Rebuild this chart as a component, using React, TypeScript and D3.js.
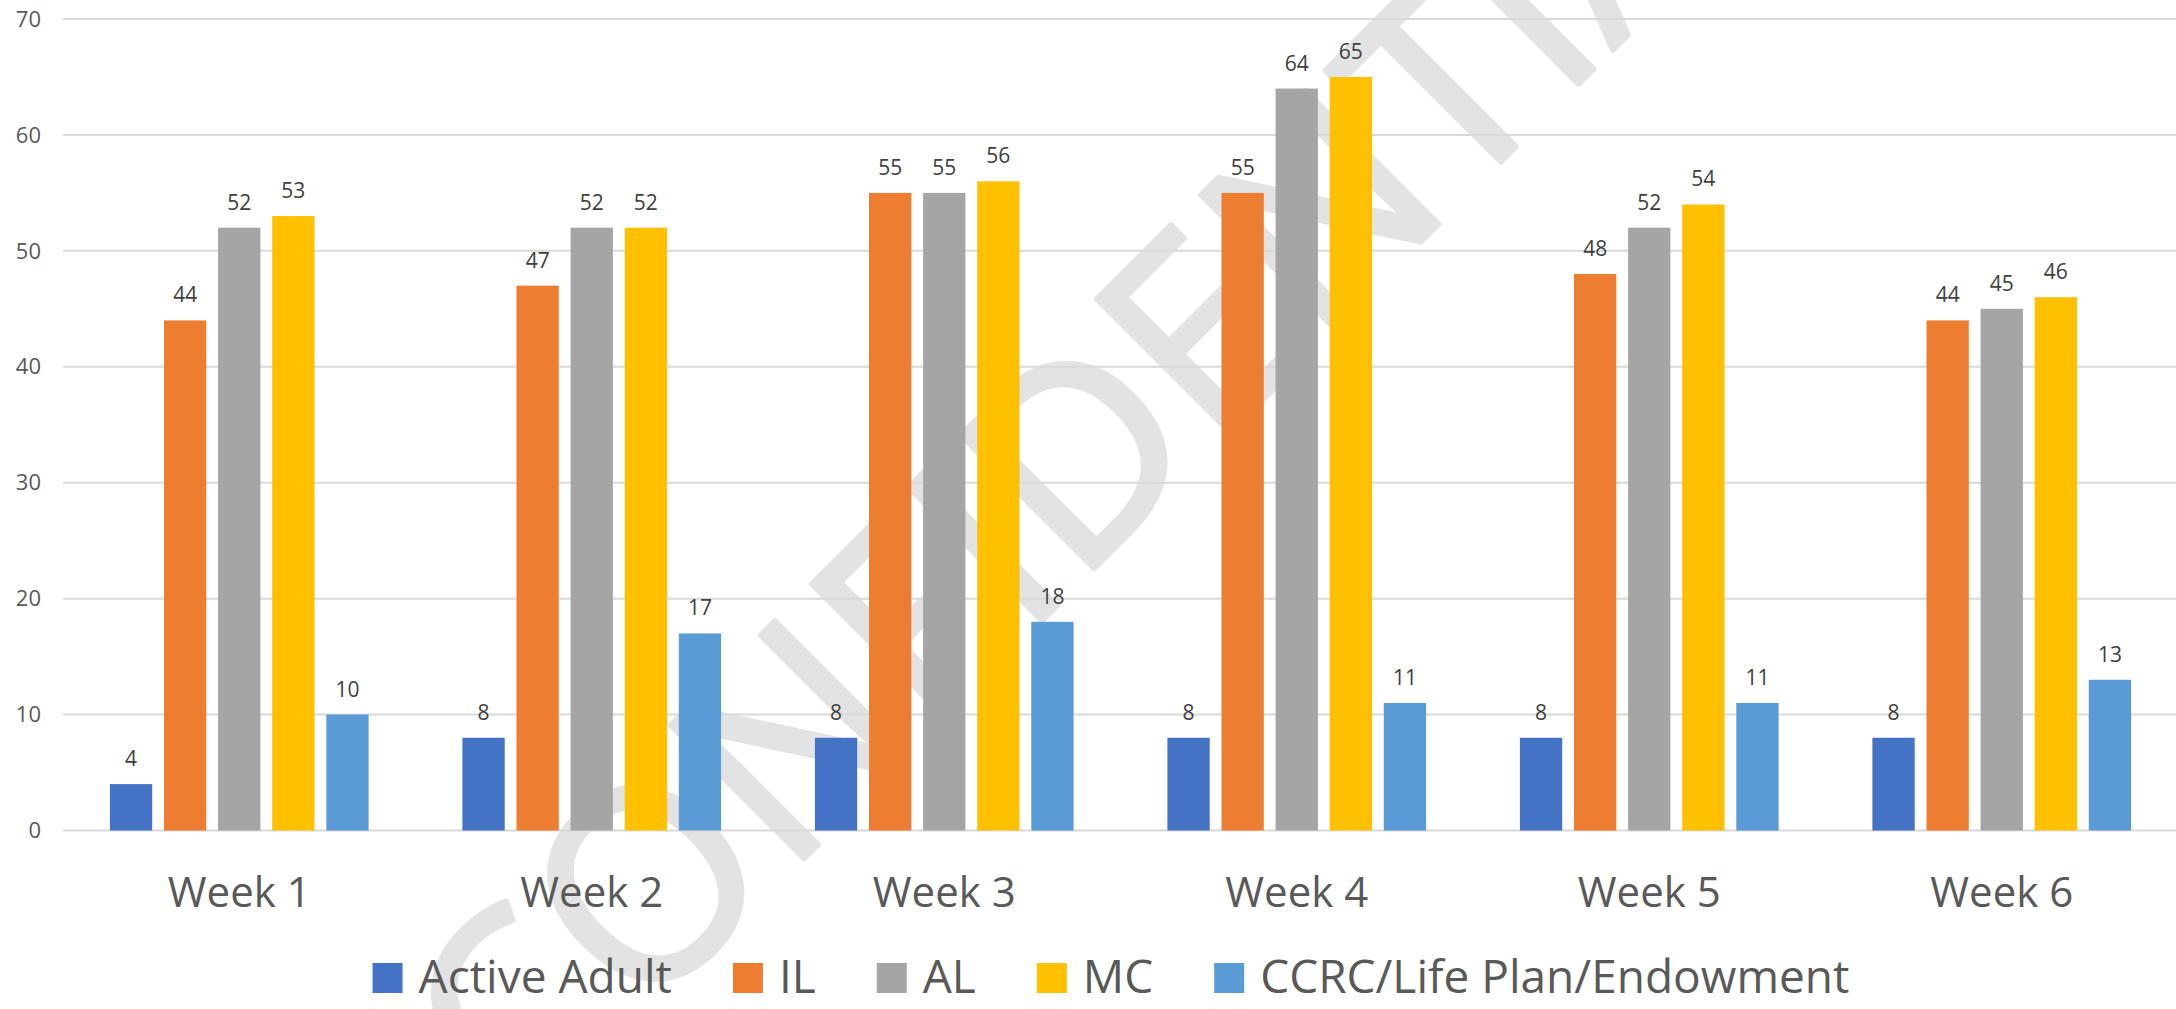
import React from "react";
import * as d3 from "d3";

const weeks = ["Week 1", "Week 2", "Week 3", "Week 4", "Week 5", "Week 6"];
const seriesNames = ["Active Adult", "IL", "AL", "MC", "CCRC/Life Plan/Endowment"];
const activeAdult = [4, 8, 8, 8, 8, 8];
const il = [44, 47, 55, 55, 48, 44];
const al = [52, 52, 55, 64, 52, 45];
const mc = [53, 52, 56, 65, 54, 46];
const ccrc = [10, 17, 18, 11, 11, 13];
const yTicks = [0, 10, 20, 30, 40, 50, 60, 70];
const seriesColors = ["#4472C4", "#ED7D31", "#A5A5A5", "#FFC000", "#5B9BD5"];
const watermark = "CONFIDENTIAL";

const seriesValues = [activeAdult, il, al, mc, ccrc];

const W = 2176;
const H = 1009;
const FONT = "'Open Sans', 'Noto Sans', sans-serif";

let ctx: CanvasRenderingContext2D | null = null;
function measure(text: string, size: number) {
  if (!ctx) {
    const c = document.createElement("canvas");
    ctx = c.getContext("2d");
  }
  if (!ctx) return text.length * size * 0.55;
  ctx.font = `${size}px 'Open Sans'`;
  return ctx.measureText(text).width;
}

export default function App() {
  const x0 = d3.scaleBand<string>().domain(weeks).range([63, 63 + 6 * 352.5]).paddingInner(0).paddingOuter(0);
  const x1 = d3
    .scaleBand<string>()
    .domain(seriesNames)
    .range([0, x0.bandwidth()])
    .paddingInner(0.218)
    .paddingOuter(0.867);
  const y = d3.scaleLinear().domain([0, 70]).range([830.5, 19]);

  // legend layout
  const legendFont = 46;
  const sq = 30;
  const sqGap = 16;
  const itemGap = 61;
  const widths = seriesNames.map((s) => measure(s, legendFont));
  const total = widths.reduce((a, w) => a + sq + sqGap + w, 0) + itemGap * (seriesNames.length - 1);
  let lx = 1111 - total / 2;
  const legendItems = seriesNames.map((s, i) => {
    const item = { name: s, x: lx, color: seriesColors[i] };
    lx += sq + sqGap + widths[i] + itemGap;
    return item;
  });
  const legendBaseline = 993;

  return (
    <svg
      width={W}
      height={H}
      viewBox={`0 0 ${W} ${H}`}
      style={{ position: "absolute", left: 0, top: 0, display: "block", background: "#fff" }}
    >
      <rect x={0} y={0} width={W} height={H} fill="#ffffff" />
      {/* watermark */}
      <text
        x={522}
        y={1141}
        transform="rotate(-45 522 1141)"
        fontFamily={FONT}
        fontSize={265}
        fill="#e3e3e3"
        stroke="#e3e3e3"
        strokeWidth={5}
        strokeLinejoin="round"
      >
        {watermark}
      </text>
      {/* gridlines */}
      {yTicks.map((t) => (
        <line key={t} x1={63} x2={W} y1={y(t)} y2={y(t)} stroke="#d9d9d9" strokeWidth={2} />
      ))}
      {/* y tick labels */}
      {yTicks.map((t) => (
        <text
          key={"yl" + t}
          x={41}
          y={y(t)}
          dy="0.35em"
          textAnchor="end"
          fontFamily={FONT}
          fontSize={22}
          fill="#595959"
        >
          {t}
        </text>
      ))}
      {/* bars */}
      {weeks.map((wk, wi) => (
        <g key={wk} transform={`translate(${x0(wk)},0)`}>
          {seriesNames.map((s, si) => {
            const v = seriesValues[si][wi];
            const bx = x1(s) as number;
            return (
              <g key={s}>
                <rect x={bx} y={y(v)} width={x1.bandwidth()} height={y(0) - y(v)} fill={seriesColors[si]} />
                <text
                  x={bx + x1.bandwidth() / 2}
                  y={y(v) - 18}
                  textAnchor="middle"
                  fontFamily={FONT}
                  fontSize={21}
                  fill="#404040"
                >
                  {v}
                </text>
              </g>
            );
          })}
        </g>
      ))}
      {/* category labels */}
      {weeks.map((wk) => (
        <text
          key={"c" + wk}
          x={(x0(wk) as number) + x0.bandwidth() / 2}
          y={907}
          textAnchor="middle"
          fontFamily={FONT}
          fontSize={42}
          fill="#595959"
        >
          {wk}
        </text>
      ))}
      {/* legend */}
      {legendItems.map((it) => (
        <g key={"lg" + it.name}>
          <rect x={it.x} y={legendBaseline - sq} width={sq} height={sq} fill={it.color} />
          <text x={it.x + sq + sqGap} y={legendBaseline} fontFamily={FONT} fontSize={legendFont} fill="#595959">
            {it.name}
          </text>
        </g>
      ))}
    </svg>
  );
}
